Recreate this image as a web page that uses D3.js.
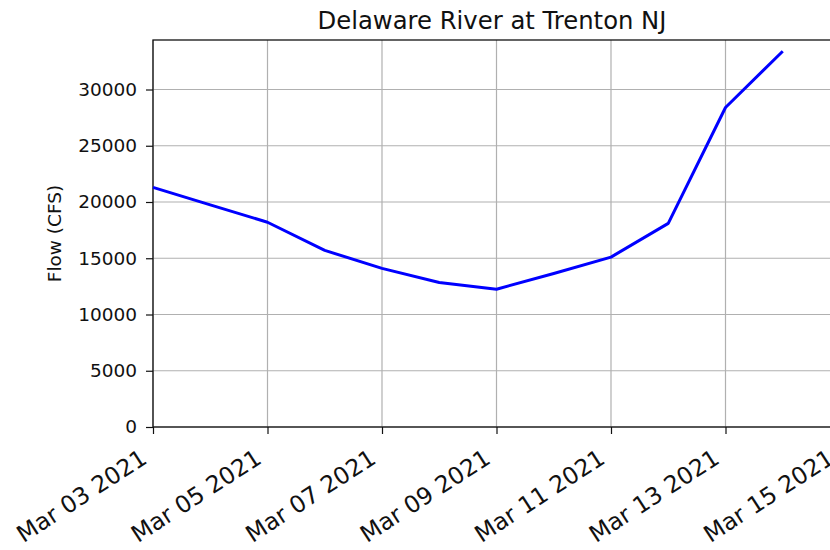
<!DOCTYPE html>
<html lang="en">
<head>
    <meta charset="UTF-8">
    <title>Delaware River at Trenton NJ</title>
    <style>
        body { margin: 0; background: #fff; }
        svg { display: block; font-family: "DejaVu Sans", sans-serif; }
    </style>
    <script src="https://d3js.org/d3.v7.min.js"></script>
</head>
<body>
    <div id="chart"></div>
    <script>
        const dates = ["2021-03-03", "2021-03-04", "2021-03-05", "2021-03-06", "2021-03-07", "2021-03-08",
            "2021-03-09", "2021-03-10", "2021-03-11", "2021-03-12", "2021-03-13", "2021-03-14"]
        const flow = [21300, 19750, 18200, 15700, 14100, 12850, 12250, 13650, 15100, 18100, 28400, 33400]
        const yTicks = [0, 5000, 10000, 15000, 20000, 25000, 30000]
        const xTickDates = ["2021-03-03", "2021-03-05", "2021-03-07", "2021-03-09", "2021-03-11", "2021-03-13", "2021-03-15"]

        const width = 830, height = 550
        const margin = { top: 40, left: 153 }
        const plotW = 687, plotH = 387

        const parse = d3.utcParse("%Y-%m-%d")
        const data = dates.map((d, i) => ({ date: parse(d), value: flow[i] }))

        const svg = d3.select("#chart").append("svg").attr("width", width).attr("height", height)
        const g = svg.append("g").attr("transform", `translate(${margin.left}, ${margin.top})`)

        const x = d3.scaleUtc().domain([parse("2021-03-03"), parse("2021-03-15")]).range([0, plotW])
        const y = d3.scaleLinear().domain([0, 34400]).range([plotH, 0])

        // grid
        g.append("g").selectAll("line").data(xTickDates.map(parse)).join("line")
            .attr("x1", d => x(d)).attr("x2", d => x(d)).attr("y1", 0).attr("y2", plotH)
            .attr("stroke", "#b0b0b0").attr("stroke-width", 1.2)
        g.append("g").selectAll("line").data(yTicks).join("line")
            .attr("x1", 0).attr("x2", plotW).attr("y1", d => y(d)).attr("y2", d => y(d))
            .attr("stroke", "#b0b0b0").attr("stroke-width", 1.2)

        // axes
        const yAxis = g.append("g").call(d3.axisLeft(y).tickValues(yTicks).tickSize(7).tickPadding(9).tickFormat(d3.format("d")))
        yAxis.select(".domain").remove()
        yAxis.selectAll("text").attr("font-size", 18.5).attr("fill", "#111").attr("font-family", "DejaVu Sans")
        yAxis.selectAll("line").attr("stroke", "#111").attr("stroke-width", 1.2)

        const xAxis = g.append("g").attr("transform", `translate(0, ${plotH})`)
            .call(d3.axisBottom(x).tickValues(xTickDates.map(parse)).tickSize(7).tickFormat(d3.utcFormat("%b %d %Y")))
        xAxis.select(".domain").remove()
        xAxis.selectAll("line").attr("stroke", "#111").attr("stroke-width", 1.2)
        xAxis.selectAll("text")
            .attr("font-size", 23.5).attr("fill", "#111").attr("font-family", "DejaVu Sans")
            .attr("text-anchor", "end").attr("x", 0).attr("y", 0).attr("dy", null)
            .attr("transform", "translate(-5, 35) rotate(-33)")

        // frame
        g.append("rect").attr("width", plotW).attr("height", plotH)
            .attr("fill", "none").attr("stroke", "#111").attr("stroke-width", 1.3)

        // line
        g.append("path").datum(data)
            .attr("fill", "none").attr("stroke", "#0000ff").attr("stroke-width", 3)
            .attr("stroke-linejoin", "round")
            .attr("d", d3.line().x(d => x(d.date)).y(d => y(d.value)))

        svg.append("text").attr("x", 492).attr("y", 29).attr("text-anchor", "middle")
            .attr("font-size", 24.3).attr("fill", "#111").text("Delaware River at Trenton NJ")

        svg.append("text").attr("transform", `translate(61, ${margin.top + plotH / 2}) rotate(-90)`)
            .attr("text-anchor", "middle").attr("font-size", 18.5).attr("fill", "#111").text("Flow (CFS)")
    </script>
</body>
</html>
